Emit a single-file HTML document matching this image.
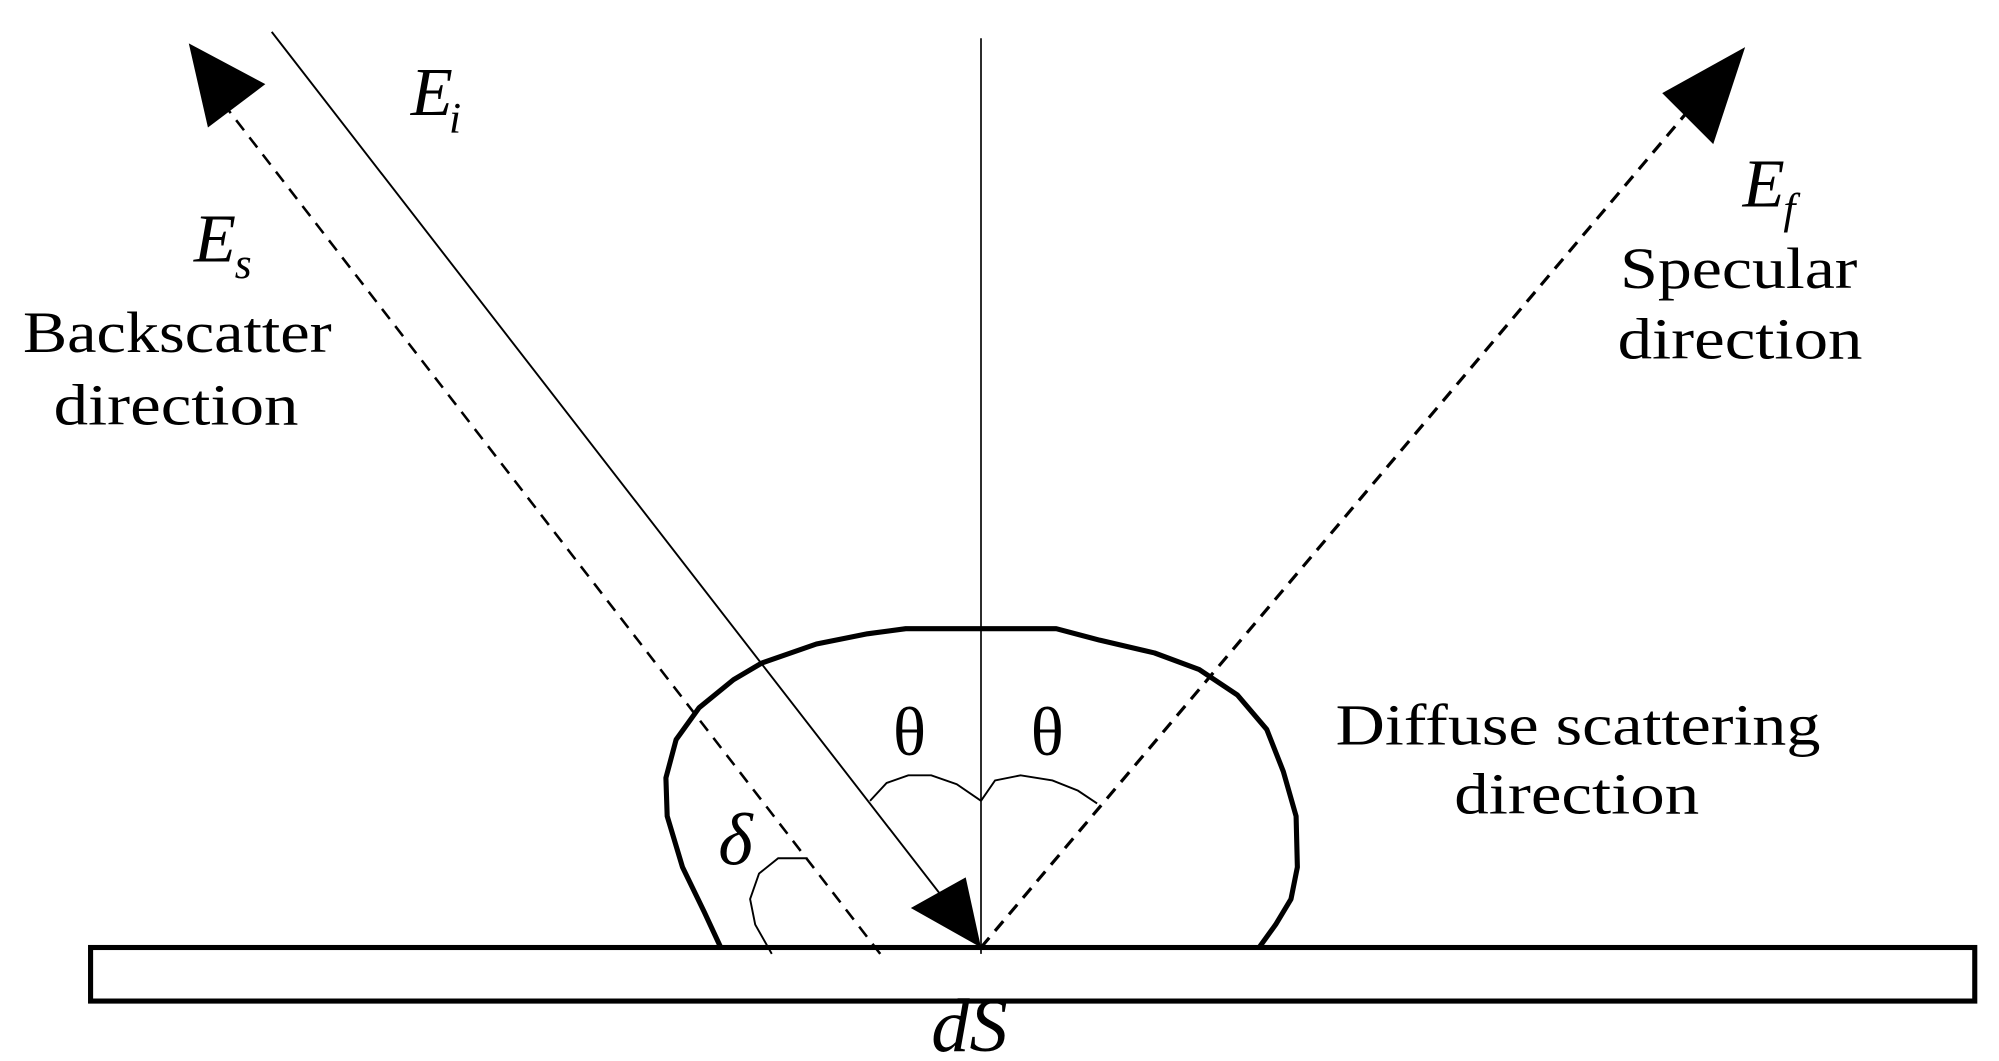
<!DOCTYPE html>
<html><head><meta charset="utf-8"><style>html,body{margin:0;padding:0;background:#fff;}svg{display:block}</style></head>
<body>
<svg width="1999" height="1061" viewBox="0 0 1567 832" preserveAspectRatio="none" xmlns="http://www.w3.org/2000/svg" font-family="Liberation Serif, serif">
<rect x="0" y="0" width="1567" height="832" fill="#fff"/>
<rect x="71" y="743" width="1477" height="42" fill="none" stroke="#000" stroke-width="4"/>
<line x1="769" y1="30" x2="769" y2="748" stroke="#000" stroke-width="1.3"/>
<line x1="213" y1="25" x2="740" y2="705" stroke="#000" stroke-width="1.5"/>
<polygon points="714,712 757,688 769,743" fill="#000"/>
<line x1="690" y1="748" x2="178" y2="85" stroke="#000" stroke-width="2" stroke-dasharray="10,7"/>
<polygon points="148,34 208,66 163,100" fill="#000"/>
<line x1="769" y1="743" x2="1325" y2="85" stroke="#000" stroke-width="2.5" stroke-dasharray="10,7"/>
<polygon points="1368,37 1303,73 1343,113" fill="#000"/>
<path d="M565,743 L552,715 L535,680 L523,640 L522,610 L530,580 L548,555 L575,533 L597,520 L640,505 L680,497 L710,493 L828,493 L862,502 L905,512 L940,525 L970,545 L993,572 L1006,605 L1016,640 L1017,680 L1012,705 L1000,725 L987,743" fill="none" stroke="#000" stroke-width="4" stroke-linejoin="round"/>
<path d="M682,628 L695,614 L712,608 L730,608 L750,615 L769,628" fill="none" stroke="#000" stroke-width="1.5"/>
<path d="M769,628 L780,612 L800,608 L825,612 L845,620 L860,630" fill="none" stroke="#000" stroke-width="1.5"/>
<path d="M633,673 L610,673 L595,685 L588,705 L592,725 L605,748" fill="none" stroke="#000" stroke-width="1.5"/>
<text x="322" y="90" font-size="54" font-style="italic">E</text>
<text x="352" y="104" font-size="34" font-style="italic">i</text>
<text x="152" y="205" font-size="54" font-style="italic">E</text>
<text x="184" y="218" font-size="34" font-style="italic">s</text>
<text x="1366" y="162" font-size="54" font-style="italic">E</text>
<text x="1398" y="175" font-size="34" font-style="italic">f</text>
<text x="18" y="276" font-size="46" textLength="242" lengthAdjust="spacingAndGlyphs">Backscatter</text>
<text x="42" y="333" font-size="46" textLength="192" lengthAdjust="spacingAndGlyphs">direction</text>
<text x="1270" y="226" font-size="46" textLength="186" lengthAdjust="spacingAndGlyphs">Specular</text>
<text x="1268" y="281" font-size="46" textLength="192" lengthAdjust="spacingAndGlyphs">direction</text>
<text x="1047" y="584" font-size="46" textLength="380" lengthAdjust="spacingAndGlyphs">Diffuse scattering</text>
<text x="1140" y="638" font-size="46" textLength="192" lengthAdjust="spacingAndGlyphs">direction</text>
<text x="700" y="592" font-size="54">θ</text>
<text x="808" y="592" font-size="54">θ</text>
<text x="563" y="678" font-size="58" font-style="italic">δ</text>
<text x="730" y="824" font-size="60" font-style="italic">dS</text>
</svg>
</body></html>
